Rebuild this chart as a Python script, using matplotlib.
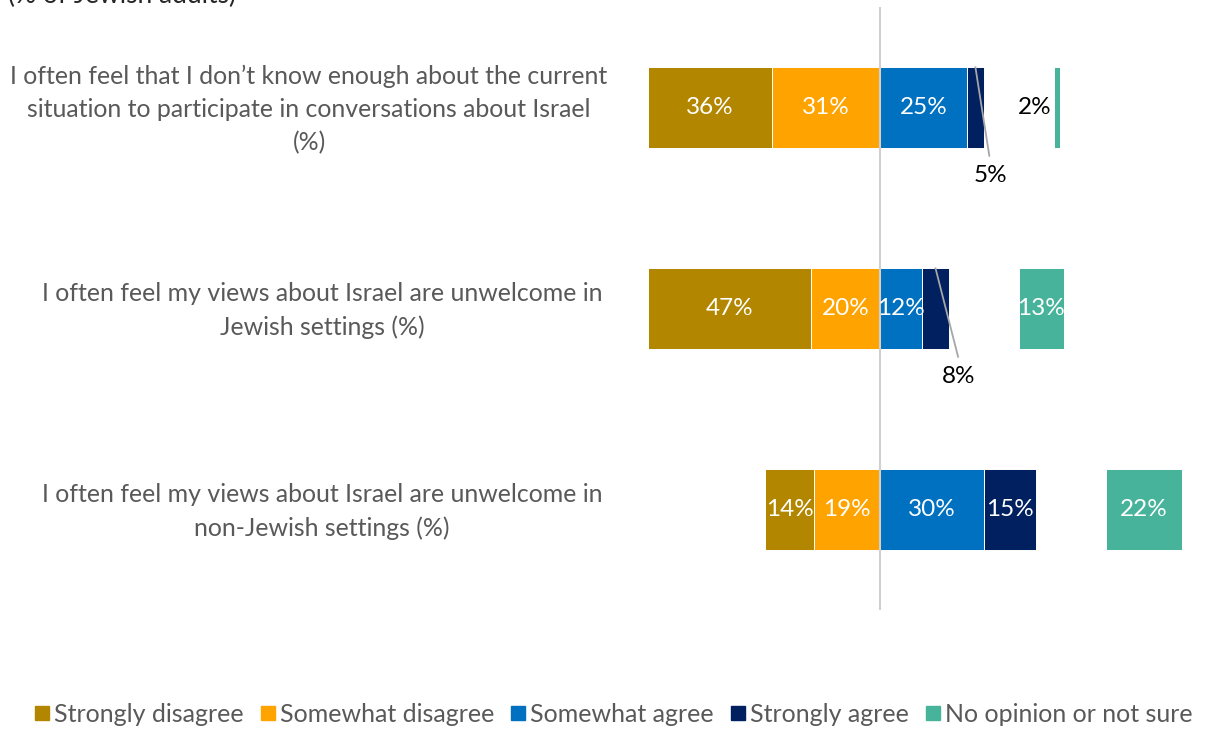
import numpy as np
import matplotlib.pyplot as plt
from matplotlib.lines import Line2D

plt.rcParams['font.family'] = ['Lato', 'DejaVu Sans']

statements = [
    "I often feel that I don\u2019t know enough about the current\nsituation to participate in conversations about Israel\n(%)",
    "I often feel my views about Israel are unwelcome in\nJewish settings (%)",
    "I often feel my views about Israel are unwelcome in\nnon-Jewish settings (%)",
]
strongly_disagree = [36, 47, 14]
somewhat_disagree = [31, 20, 19]
somewhat_agree = [25, 12, 30]
strongly_agree = [5, 8, 15]
no_opinion = [2, 13, 22]

series_names = ["Strongly disagree", "Somewhat disagree", "Somewhat agree",
                "Strongly agree", "No opinion or not sure"]
colors = ["#B38600", "#FFA300", "#0070C0", "#002060", "#48B39B"]

GAP = 20  # empty space between agree side and "no opinion"

fig = plt.figure(figsize=(12.07, 7.29), dpi=100)
W, H = 1207, 729
ax = fig.add_axes([600 / W, (H - 610) / H, 600 / W, 603 / H])
ax.set_xlim((600 - 880) / 3.47, (1200 - 880) / 3.47)
ax.set_ylim(2.5, -0.5)
ax.axis('off')

y = np.arange(len(statements))
sd = np.array(strongly_disagree)
swd = np.array(somewhat_disagree)
swa = np.array(somewhat_agree)
sa = np.array(strongly_agree)
no = np.array(no_opinion)

h = 0.4
kw = dict(height=h, edgecolor='white', linewidth=0.7, zorder=2)
ax.barh(y, -sd, left=-swd, color=colors[0], **kw)
ax.barh(y, -swd, color=colors[1], **kw)
ax.barh(y, swa, color=colors[2], **kw)
ax.barh(y, sa, left=swa, color=colors[3], **kw)
ax.barh(y, no, left=swa + sa + GAP, color=colors[4], **kw)

ax.axvline(0, color='#d0d0d0', linewidth=1.5, zorder=3)

fs = 17.5
for i in range(len(y)):
    ax.text(-swd[i] - sd[i] / 2, y[i], f"{sd[i]}%", ha='center', va='center', color='white', fontsize=fs, zorder=4)
    ax.text(-swd[i] / 2, y[i], f"{swd[i]}%", ha='center', va='center', color='white', fontsize=fs, zorder=4)
    ax.text(swa[i] / 2, y[i], f"{swa[i]}%", ha='center', va='center', color='white', fontsize=fs, zorder=4)
    sa_mid = swa[i] + sa[i] / 2
    if sa[i] >= 10:
        ax.text(sa_mid, y[i], f"{sa[i]}%", ha='center', va='center', color='white', fontsize=fs, zorder=4)
    else:
        # small segment: label below with a leader line
        dx = 4.0 if i == 0 else 6.5
        ax.plot([sa_mid, sa_mid + dx], [y[i] - h / 2, y[i] + 0.24], color='#a6a6a6', linewidth=1.3, zorder=4)
        ax.text(sa_mid + dx + 0.3, y[i] + 0.34, f"{sa[i]}%", ha='center', va='center', color='black', fontsize=fs)
    no_left = swa[i] + sa[i] + GAP
    if no[i] >= 10:
        ax.text(no_left + no[i] / 2, y[i], f"{no[i]}%", ha='center', va='center', color='white', fontsize=fs, zorder=4)
    else:
        ax.text(no_left - 0.6, y[i], f"{no[i]}%", ha='right', va='center', color='black', fontsize=fs, zorder=4)

# category labels, centred left of the bars
label_x = [309, 322, 322]
for i, s in enumerate(statements):
    ax.text((label_x[i] - 600) / 600, y[i] + 0.01, s, transform=ax.get_yaxis_transform(), ha='center', va='center',
            multialignment='center', color='#595959', fontsize=17.9, linespacing=1.5)

fig.text(8 / W, 1 - 3 / H, "(% of Jewish adults)", ha='left', va='baseline', color='#262626', fontsize=19)

handles = [Line2D([], [], linestyle='none', marker='s', markersize=9.5, markerfacecolor=c, markeredgecolor=c)
           for c in colors]
fig.legend(handles, series_names, loc='center', bbox_to_anchor=(614 / W, (H - 714) / H), ncol=5,
           frameon=False, fontsize=18, handlelength=0.55, handletextpad=0.2, columnspacing=0.7,
           labelcolor='#595959', borderpad=0.1)

fig.savefig('out.png', dpi=100)
